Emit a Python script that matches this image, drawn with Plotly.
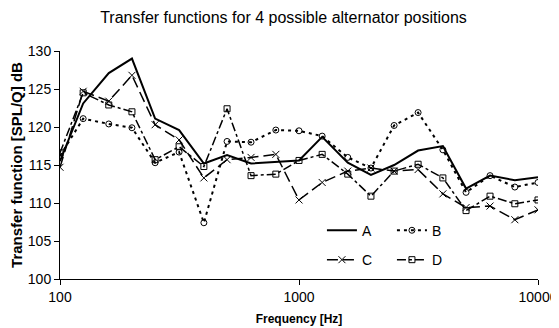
import plotly.graph_objects as go

freqs = [100, 125, 160, 200, 250, 315, 400, 500, 630, 800, 1000, 1250, 1600,
         2000, 2500, 3150, 4000, 5000, 6300, 8000, 10000]

series_A = [115.5, 123.1, 127.1, 129.0, 121.1, 119.6, 115.2, 116.3, 115.2, 115.4, 115.6,
            118.7, 115.3, 113.7, 115.0, 116.9, 117.5, 111.9, 113.6, 113.0, 113.4]
series_B = [116.2, 121.1, 120.4, 119.9, 115.3, 116.7, 107.4, 118.1, 118.0, 119.6, 119.5,
            118.8, 116.0, 114.6, 120.2, 121.9, 117.0, 111.4, 113.6, 112.1, 112.7]
series_C = [114.7, 124.7, 123.4, 126.8, 120.3, 118.3, 113.3, 115.7, 116.0, 116.4, 110.4,
            112.7, 114.2, 114.6, 114.2, 114.4, 111.2, 109.4, 109.6, 107.8, 109.1]
series_D = [116.6, 124.5, 122.9, 122.0, 115.7, 117.4, 114.8, 122.4, 113.6, 113.8, 115.6,
            116.4, 113.8, 110.9, 114.2, 115.1, 113.3, 109.0, 110.9, 109.9, 110.4]

y_ticks = [100, 105, 110, 115, 120, 125, 130]
x_ticks = [100, 1000, 10000]
x_tick_labels = ["100", "1000", "10000"]

FONT = "Liberation Sans, Arial, sans-serif"

fig = go.Figure()
fig.add_trace(go.Scatter(x=freqs, y=series_A, name="A", mode="lines",
                         line=dict(color="black", width=2), legend="legend"))
fig.add_trace(go.Scatter(x=freqs, y=series_B, name="B", mode="lines+markers",
                         line=dict(color="black", width=2, dash="3px,4px"),
                         marker=dict(symbol="circle-open", size=6, color="black",
                                     line=dict(width=1, color="black")),
                         legend="legend"))
fig.add_trace(go.Scatter(x=freqs, y=series_C, name="C", mode="lines+markers",
                         line=dict(color="black", width=1.5, dash="11px,5px"),
                         marker=dict(symbol="x-thin-open", size=7, color="black",
                                     line=dict(width=1, color="black")),
                         legend="legend2"))
fig.add_trace(go.Scatter(x=freqs, y=series_D, name="D", mode="lines+markers",
                         line=dict(color="black", width=1.5, dash="9px,3px,3px,3px"),
                         marker=dict(symbol="square-open", size=6, color="black",
                                     line=dict(width=1, color="black")),
                         legend="legend2"))

fig.update_layout(
    width=551, height=320,
    margin=dict(l=52, r=21, t=43, b=49),
    paper_bgcolor="white", plot_bgcolor="white",
    font=dict(family=FONT, color="black", size=14),
    title=dict(text="Transfer functions for 4 possible alternator positions",
               x=0.5, xanchor="center", y=0.97, yanchor="middle",
               font=dict(size=16, family=FONT, color="black")),
    xaxis=dict(type="log", range=[2, 4], tickvals=x_ticks, ticktext=x_tick_labels,
               showgrid=False, zeroline=False, showline=True, linecolor="black",
               linewidth=1, ticks="outside", ticklen=5, tickcolor="black",
               tickfont=dict(size=14), automargin=False,
               title=dict(text="<b>Frequency [Hz]</b>", font=dict(size=12), standoff=10)),
    yaxis=dict(range=[100, 130], tickvals=y_ticks, showgrid=False, zeroline=False,
               showline=True, linecolor="black", linewidth=1, ticks="outside",
               ticklen=5, tickcolor="black", tickfont=dict(size=14), automargin=False,
               title=dict(text="<b>Transfer function [SPL/Q] dB</b>",
                          font=dict(size=15), standoff=4)),
    legend=dict(orientation="h", x=0.548, y=0.212, xanchor="left", yanchor="middle",
                bgcolor="rgba(0,0,0,0)", font=dict(size=14), entrywidth=25,
                itemwidth=30, tracegroupgap=0),
    legend2=dict(orientation="h", x=0.548, y=0.083, xanchor="left", yanchor="middle",
                 bgcolor="rgba(0,0,0,0)", font=dict(size=14), entrywidth=25,
                 itemwidth=30, tracegroupgap=0),
    showlegend=True,
)

fig.write_html("out.html")
